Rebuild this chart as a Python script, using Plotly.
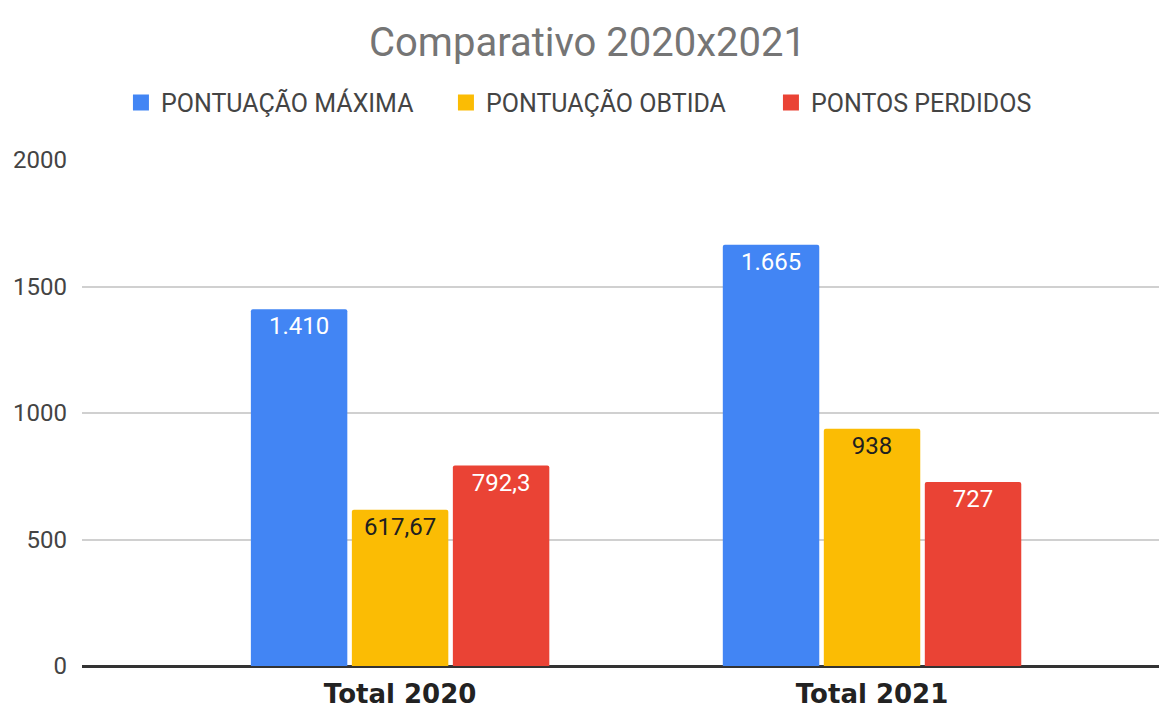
import plotly.graph_objects as go

categories = ["Total 2020", "Total 2021"]
series_names = ["PONTUAÇÃO MÁXIMA", "PONTUAÇÃO OBTIDA", "PONTOS PERDIDOS"]
pontuacao_maxima = [1410, 1665]
pontuacao_obtida = [617.67, 938]
pontos_perdidos = [792.3, 727]
y_ticks = [0, 500, 1000, 1500, 2000]

colors = ["#4285F4", "#FBBC04", "#EA4335"]
text_colors = ["#FFFFFF", "#202020", "#FFFFFF"]


def fmt_br(v):
    if float(v).is_integer():
        s = f"{int(v):,}".replace(",", ".")
    else:
        s = f"{v:,.2f}".rstrip("0").rstrip(".")
        s = s.replace(",", "X").replace(".", ",").replace("X", ".")
    return s


fig = go.Figure()
for name, vals, c, tc in zip(series_names,
                             [pontuacao_maxima, pontuacao_obtida, pontos_perdidos],
                             colors, text_colors):
    fig.add_trace(go.Bar(
        x=categories, y=vals, name=name, showlegend=False,
        marker=dict(color=c, line=dict(width=0)),
        text=[fmt_br(v) for v in vals],
        textposition="inside", insidetextanchor="end",
        textfont=dict(family="Roboto", size=24, color=tc),
        textangle=0,
    ))
    # legend entry with a larger square swatch
    fig.add_trace(go.Scatter(
        x=[None], y=[None], name=name, mode="markers",
        marker=dict(symbol="square", size=16, color=c),
        showlegend=True, hoverinfo="skip",
    ))

fig.update_layout(
    width=1159, height=701,
    paper_bgcolor="white", plot_bgcolor="white",
    barmode="group", bargap=0.358, bargroupgap=0.045,
    barcornerradius=2,
    title=dict(text="Comparativo 2020x2021", x=0.5, xanchor="center",
               y=0.9515, yanchor="middle",
               font=dict(family="Roboto", size=40, color="#757575")),
    legend=dict(orientation="h", x=0.4852, xanchor="center", y=1.113, yanchor="middle",
                font=dict(family="Roboto", size=25, color="#444444"),
                itemwidth=30, traceorder="normal",
                entrywidth=280, entrywidthmode="pixels"),
    margin=dict(l=74, r=0, t=152, b=43),
    showlegend=True,
)
fig.update_xaxes(
    range=[-0.674, 1.625], showgrid=False, showline=False, zeroline=False,
    tickfont=dict(family="DejaVu Sans", size=26, color="#222222", weight="bold"),
    ticks="", ticklabelstandoff=10, automargin=False,
)
fig.update_yaxes(
    range=[0, 2000], tickvals=y_ticks, ticktext=[str(t) for t in y_ticks],
    showgrid=True, gridcolor="#D0D0D0", gridwidth=1.5,
    zeroline=True, zerolinecolor="#333333", zerolinewidth=2.5,
    tickfont=dict(family="Roboto", size=24, color="#444444"),
    ticks="", ticklabelstandoff=14, automargin=False,
)

fig.write_html("out.html")
